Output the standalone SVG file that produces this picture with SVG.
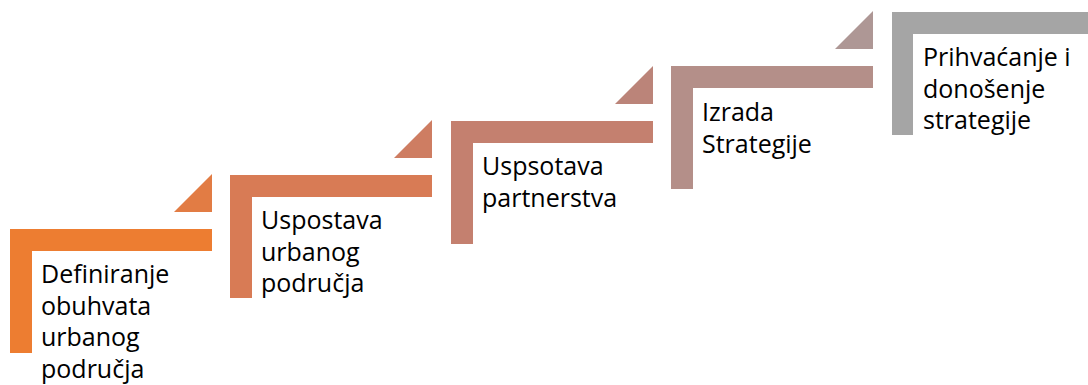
<svg xmlns="http://www.w3.org/2000/svg" width="1088" height="385" viewBox="0 0 1088 385">
<style>
text{font-family:"Open Sans","Liberation Sans",sans-serif;font-size:25px;fill:#000}
</style>
<rect width="1088" height="385" fill="#fff"/>
<g id="connectors">
<polygon points="174,212 212,174 212,212" fill="#E27C44"/>
<polygon points="394,158 432,120 432,158" fill="#CE7D62"/>
<polygon points="615,104 653,66 653,104" fill="#BB8479"/>
<polygon points="835,49 873,11 873,49" fill="#AE9795"/>
</g>
<g id="step1">
<path d="M10,229H212V251H32V353H10Z" fill="#ED7D31"/>
<text x="41" y="283">Definiranje<tspan x="41" dy="31.7">obuhvata</tspan><tspan x="41" dy="31.7">urbanog</tspan><tspan x="41" dy="31.7">područja</tspan></text>
</g>
<g id="step2">
<path d="M230,175H432V197H252V298H230Z" fill="#D87B55"/>
<text x="261" y="229">Uspostava<tspan x="261" dy="31.7">urbanog</tspan><tspan x="261" dy="31.7">područja</tspan></text>
</g>
<g id="step3">
<path d="M451,121H653V143H473V244H451Z" fill="#C4806F"/>
<text x="482" y="175">Uspsotava<tspan x="482" dy="31.7">partnerstva</tspan></text>
</g>
<g id="step4">
<path d="M671,66H873V88H693V189H671Z" fill="#B48F89"/>
<text x="702" y="121">Izrada<tspan x="702" dy="31.7">Strategije</tspan></text>
</g>
<g id="step5">
<path d="M892,12H1094V34H913V135H892Z" fill="#A5A5A5"/>
<text x="923" y="66">Prihvaćanje i<tspan x="923" dy="31.7">donošenje</tspan><tspan x="923" dy="31.7">strategije</tspan></text>
</g>
</svg>
